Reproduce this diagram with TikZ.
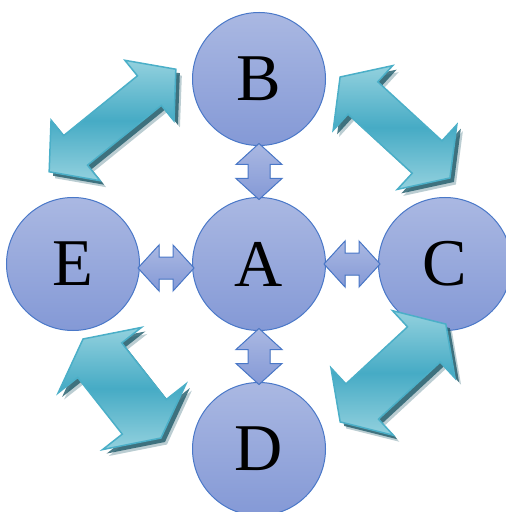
\documentclass[tikz,border=0pt]{standalone}
\usepackage{fontspec}
\setmainfont{Liberation Serif}
\usetikzlibrary{calc}
\definecolor{balltop}{HTML}{AAB8E2}
\definecolor{ballbottom}{HTML}{8499D6}
\definecolor{ballline}{HTML}{4A78C8}
\definecolor{teallight}{HTML}{93D1DE}
\definecolor{tealdark}{HTML}{46ABC5}
\definecolor{tealline}{HTML}{4BAFC8}
\definecolor{tealshadow}{HTML}{1E5A69}
% double headed arrow along x: half length, head length, head half width, shaft half width
\newcommand\twoheads[4]{(#1,0) -- (#1-#2,#3) -- (#1-#2,#4) -- (-#1+#2,#4) -- (-#1+#2,#3) -- (-#1,0) -- (-#1+#2,-#3) -- (-#1+#2,-#4) -- (#1-#2,-#4) -- (#1-#2,-#3) -- cycle}
\begin{document}
\begin{tikzpicture}[x=0.03cm,y=-0.03cm,
  ball/.style={circle,draw=ballline,line width=0.03cm,top color=balltop,bottom color=ballbottom,
    minimum size=3.99cm,inner sep=0pt,font=\fontsize{57}{60}\selectfont},
  smallarrow/.style={draw=ballline,line width=0.03cm,top color=balltop,bottom color=ballbottom},
  bigarrow/.style={draw=tealline,line width=0.045cm,top color=teallight,bottom color=teallight,middle color=tealdark},
  bigshadow/.style={fill=tealshadow,opacity=0.8},
  softshadow/.style={fill=tealshadow,opacity=0.3}]
\useasboundingbox (0,0) rectangle (505,512);
% circles
\node[ball] (A) at (259,264) {A};
\node[ball] (B) at (259,79) {B};
\node[ball] (C) at (445,264) {C};
\node[ball] (D) at (259,449) {D};
\node[ball] (E) at (73,264) {E};
% big arrows, shadow under each
\fill[softshadow,shift={(118.5,127)},rotate=39] \twoheads{81.5}{34}{39}{19}; % E-B
\fill[bigshadow,shift={(116.5,124.5)},rotate=39] \twoheads{81.5}{34}{39}{19};
\filldraw[bigarrow,shift={(112.5,120.5)},rotate=39] \twoheads{81.5}{34}{39}{19};
\fill[softshadow,shift={(401,134)},rotate=-42.6] \twoheads{74.6}{31}{44}{22}; % B-C
\fill[bigshadow,shift={(399,131.5)},rotate=-42.6] \twoheads{74.6}{31}{44}{22};
\filldraw[bigarrow,shift={(395,127.5)},rotate=-42.6] \twoheads{74.6}{31}{44}{22};
\fill[softshadow,shift={(399,379.5)},rotate=42.8] \twoheads{72}{30}{46}{24}; % C-D
\fill[bigshadow,shift={(397,377)},rotate=42.8] \twoheads{72}{30}{46}{24};
\filldraw[bigarrow,shift={(393,373)},rotate=42.8] \twoheads{72}{30}{46}{24};
\fill[softshadow,shift={(128,395)},rotate=-51.8] \twoheads{63}{27}{53}{28}; % D-E
\fill[bigshadow,shift={(126,392.5)},rotate=-51.8] \twoheads{63}{27}{53}{28};
\filldraw[bigarrow,shift={(122,388.5)},rotate=-51.8] \twoheads{63}{27}{53}{28};
% small arrows round A
\filldraw[smallarrow,shift={($(B.south)!0.5!(A.north)$)},rotate=90] \twoheads{28}{21}{23}{11};
\filldraw[smallarrow,shift={($(A.south)!0.5!(D.north)$)},rotate=90] \twoheads{28}{21}{23}{11};
\filldraw[smallarrow,shift={($(E.east)!0.5!(A.west)+(0,4)$)}] \twoheads{28}{21}{23}{11};
\filldraw[smallarrow,shift={($(A.east)!0.5!(C.west)$)}] \twoheads{28}{21}{23}{11};
\end{tikzpicture}
\end{document}
